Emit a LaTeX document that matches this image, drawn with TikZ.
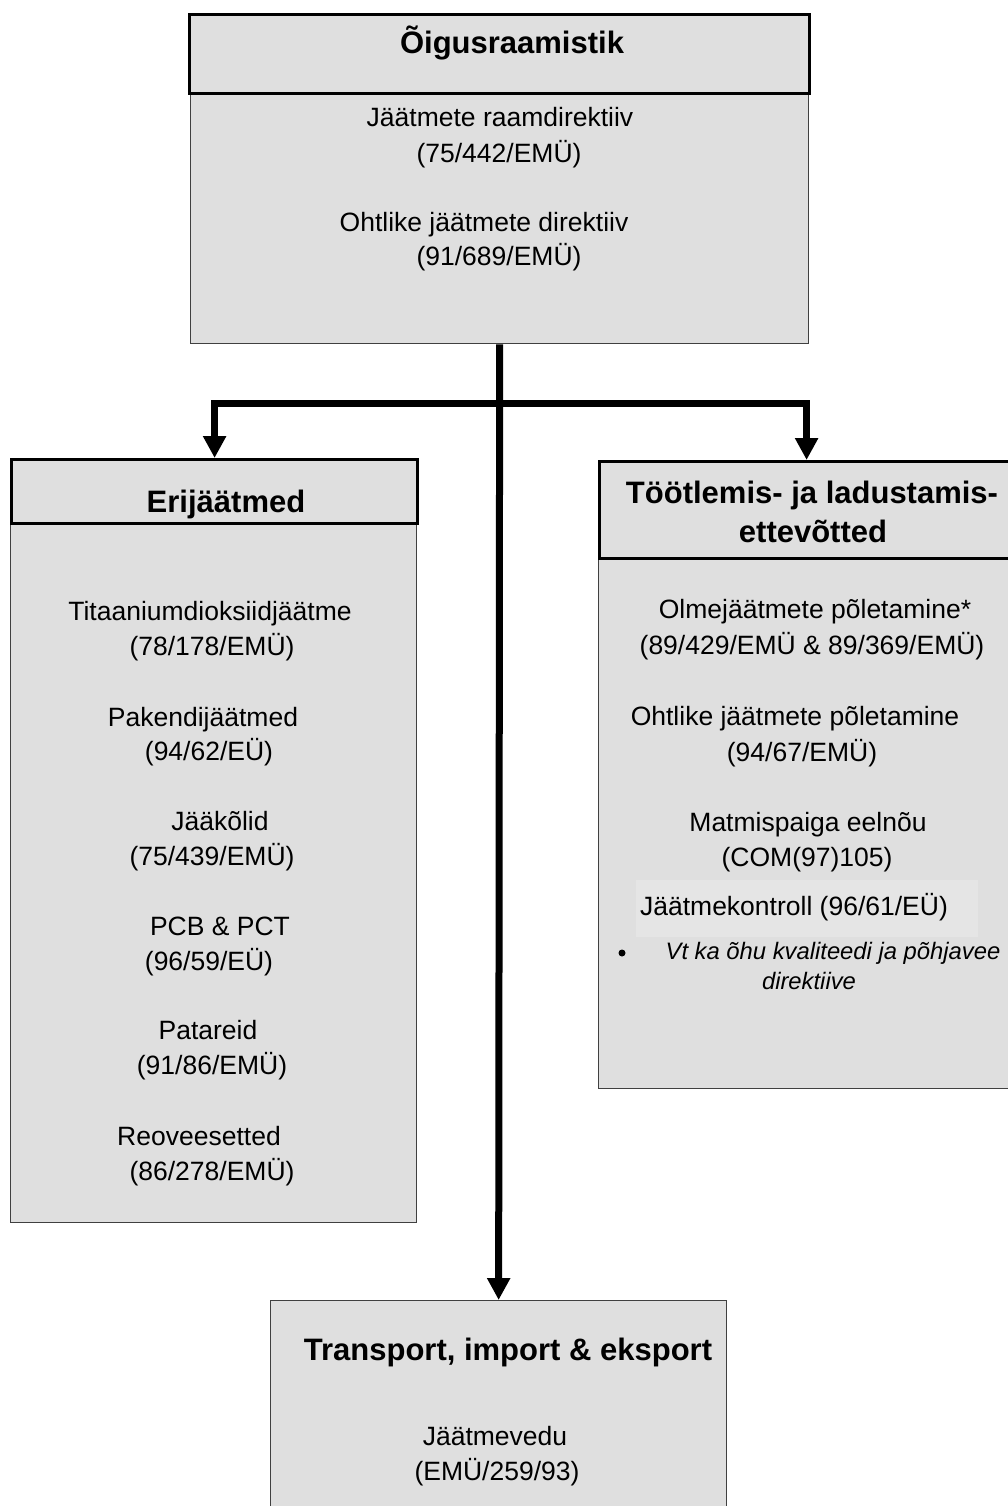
\documentclass[tikz,border=0pt]{standalone}
\usepackage{fontspec}
\setmainfont{Liberation Sans}
\usetikzlibrary{arrows.meta}
\definecolor{boxgray}{HTML}{DFDFDF}
\definecolor{hlgray}{HTML}{E5E5E5}
\definecolor{edgegray}{HTML}{404040}
\begin{document}
\begin{tikzpicture}[x=1pt,y=-1pt,
  hdr/.style={draw=black, line width=3.2pt, fill=boxgray, anchor=north west, inner sep=0pt},
  bdy/.style={draw=edgegray, line width=1.3pt, fill=boxgray, anchor=north west, inner sep=0pt},
  txt/.style={inner sep=0pt, text height=19pt, text depth=0pt, font=\fontsize{26.5}{32}\selectfont},
  htxt/.style={inner sep=0pt, text height=22.2pt, text depth=0pt, font=\fontsize{31}{38}\selectfont\bfseries},
  itxt/.style={inner sep=0pt, text height=17pt, text depth=0pt, font=\fontsize{23.8}{30}\selectfont\itshape},
  conn/.style={line width=7pt, line join=miter},
  arr/.style={conn, -{Triangle[length=22pt,width=22pt]}}
]
\useasboundingbox (0,0) rectangle (1008,1506);

% top box
\node[bdy, minimum width=618pt, minimum height=250pt] (topbody) at (190,93) {};
\node[hdr, minimum width=620pt, minimum height=79pt] (tophead) at (188,13) {};
\node[htxt] (t0) at (512,42) {Õigusraamistik};
\node[txt] (t1) at (500,117) {Jäätmete raamdirektiiv};
\node[txt] (t2) at (499,153) {(75/442/EMÜ)};
\node[txt] (t3) at (484,222) {Ohtlike jäätmete direktiiv};
\node[txt] (t4) at (499,256) {(91/689/EMÜ)};

% left box
\node[bdy, minimum width=406pt, minimum height=700pt] (leftbody) at (10,522) {};
\node[hdr, minimum width=406pt, minimum height=64pt] (lefthead) at (10,458) {};
\node[htxt] (l0) at (226,501) {Erijäätmed};
\node[txt] (l1) at (210,611) {Titaaniumdioksiidjäätme};
\node[txt] (l2) at (212,646) {(78/178/EMÜ)};
\node[txt] (l3) at (203,717) {Pakendijäätmed};
\node[txt] (l4) at (209,751) {(94/62/EÜ)};
\node[txt] (l5) at (220,821) {Jääkõlid};
\node[txt] (l6) at (212,856) {(75/439/EMÜ)};
\node[txt] (l7) at (220,926) {PCB \& PCT};
\node[txt] (l8) at (209,961) {(96/59/EÜ)};
\node[txt] (l9) at (208,1030) {Patareid};
\node[txt] (l10) at (212,1065) {(91/86/EMÜ)};
\node[txt] (l11) at (199,1136) {Reoveesetted};
\node[txt] (l12) at (212,1171) {(86/278/EMÜ)};

% right box
\node[bdy, minimum width=414pt, minimum height=531pt] (rightbody) at (598,557) {};
\node[hdr, minimum width=414pt, minimum height=97pt] (righthead) at (598,460) {};
\node[htxt] (r0a) at (812,492) {Töötlemis- ja ladustamis-};
\node[htxt] (r0b) at (813,531) {ettevõtted};
\node[txt] (r1) at (815,609) {Olmejäätmete põletamine*};
\node[txt] (r2) at (812,645) {(89/429/EMÜ \& 89/369/EMÜ)};
\node[txt] (r3) at (795,716) {Ohtlike jäätmete põletamine};
\node[txt] (r4) at (802,752) {(94/67/EMÜ)};
\node[txt] (r5) at (808,822) {Matmispaiga eelnõu};
\node[txt] (r6) at (807,857) {(COM(97)105)};
\node[fill=hlgray, anchor=north west, inner sep=0pt, minimum width=342pt, minimum height=57pt] (hl) at (636,880) {};
\node[txt] (r7) at (794,906) {Jäätmekontroll (96/61/EÜ)};
\node[circle, fill=black, inner sep=0pt, minimum size=7pt] (bul) at (622,953) {};
\node[itxt] (r8) at (833,951) {Vt ka õhu kvaliteedi ja põhjavee};
\node[itxt] (r9) at (809,981) {direktiive};

% bottom box
\node[bdy, minimum width=456pt, minimum height=260pt] (botbody) at (270,1300) {};
\node[htxt] (b0) at (508,1349) {Transport, import \& eksport};
\node[txt] (b1) at (495,1436) {Jäätmevedu};
\node[txt] (b2) at (497,1471) {(EMÜ/259/93)};

% connectors
\coordinate (j) at (topbody.south |- 0,403);
\draw[arr] (topbody.south) -- (botbody.north);
\draw[arr] (j) -| (lefthead.north);
\draw[arr] (j) -| (righthead.north);
\end{tikzpicture}
\end{document}
